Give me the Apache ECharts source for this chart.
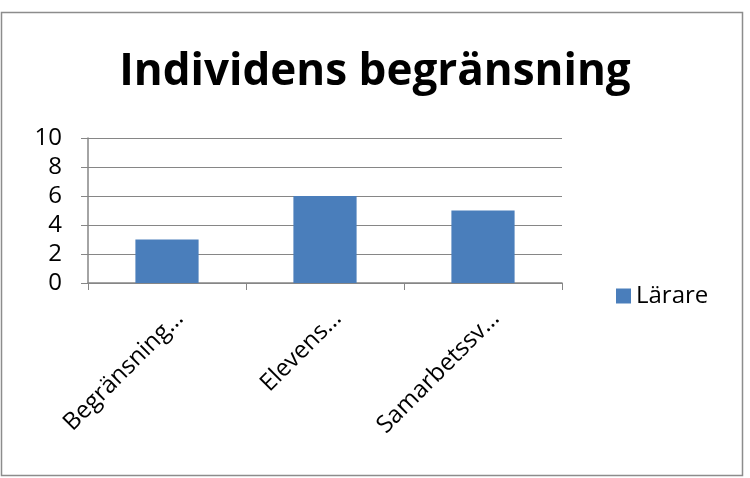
<!DOCTYPE html>
<html><head><meta charset="utf-8">
<script src="https://cdn.jsdelivr.net/npm/echarts@6/dist/echarts.min.js"></script>
<style>html,body{margin:0;padding:0;background:#fff}#c{width:750px;height:478px}</style>
</head><body><div id="c"></div>
<script>
const title = "Individens begränsning";
const categories = ["Begränsning…", "Elevens…", "Samarbetssv…"];
const seriesName = "Lärare";
const values = [3, 6, 5];
const yTicks = {min: 0, max: 10, interval: 2};

const chart = echarts.init(document.getElementById('c'));
const font = "'Open Sans', sans-serif";
chart.setOption({
  animation: false,
  title: {text: title, left: 'center', top: 45,
    textStyle: {fontFamily: font, fontWeight: 'bold', fontSize: 44, color: '#000'}},
  graphic: [{type: 'rect', shape: {x: 1.5, y: 12.5, width: 741, height: 463},
    style: {fill: 'none', stroke: '#8c8c8c', lineWidth: 1.5}, silent: true}],
  legend: {data: [seriesName], left: 611, top: 279, itemWidth: 15, itemHeight: 15, itemGap: 8,
    icon: 'rect', textStyle: {fontFamily: font, fontSize: 24, color: '#000'}},
  grid: {left: 88, right: 188, top: 138, bottom: 195, containLabel: false},
  xAxis: {type: 'category', data: categories,
    axisLine: {lineStyle: {color: '#868686', width: 1.5}},
    axisTick: {show: true, length: 7, lineStyle: {color: '#868686'}},
    axisLabel: {rotate: 45, interval: 0, margin: 19, verticalAlign: 'top', lineHeight: 36,
      fontFamily: font, fontSize: 24, color: '#000'}},
  yAxis: {type: 'value', min: yTicks.min, max: yTicks.max, interval: yTicks.interval,
    axisLine: {show: true, lineStyle: {color: '#868686', width: 1.5}},
    axisTick: {show: true, length: 7, lineStyle: {color: '#868686'}},
    splitLine: {lineStyle: {color: '#868686', width: 1.2}},
    axisLabel: {margin: 26, fontFamily: font, fontSize: 24, color: '#000'}},
  series: [{name: seriesName, type: 'bar', data: values, barWidth: '40%',
    itemStyle: {color: '#4a7ebb'}}]
});
</script></body></html>
